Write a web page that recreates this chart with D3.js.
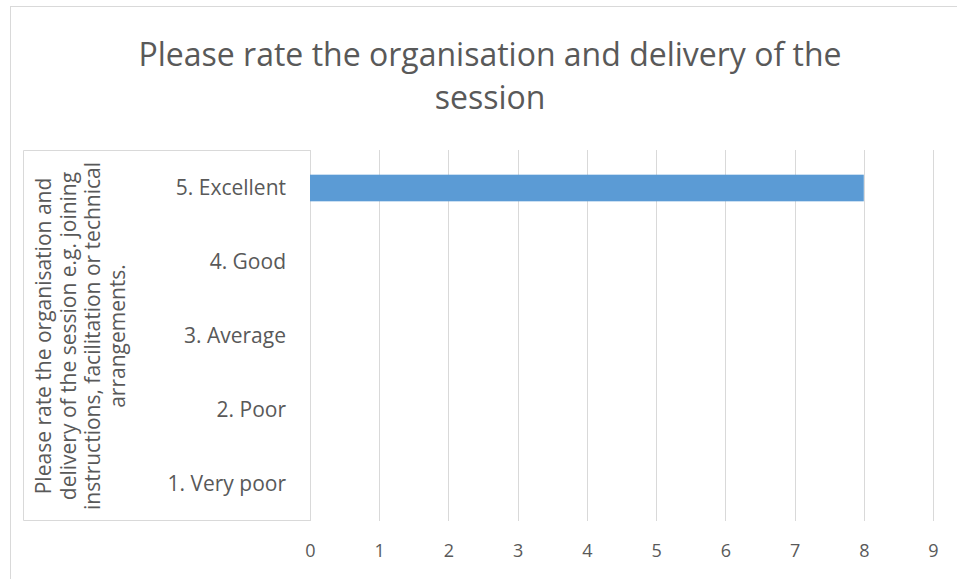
<!DOCTYPE html>
<html>
<head>
<meta charset="utf-8">
<script src="https://cdnjs.cloudflare.com/ajax/libs/d3/7.8.5/d3.min.js"></script>
<style>
  body { margin: 0; background: #fff; }
  text { font-family: "Open Sans", sans-serif; fill: #595959; }
</style>
</head>
<body>
<script>
var categories = ["5. Excellent", "4. Good", "3. Average", "2. Poor", "1. Very poor"],
    counts = [8, 0, 0, 0, 0],
    ticks = [0, 1, 2, 3, 4, 5, 6, 7, 8, 9],
    titleLines = ["Please rate the organisation and delivery of the", "session"],
    axisTitleLines = ["Please rate the organisation and",
                      "delivery of the session e.g. joining",
                      "instructions, facilitation or technical",
                      "arrangements."];

var w = 957, h = 579,
    pd = { left: 310, right: 933, top: 151, bottom: 521 },
    grid = "#d9d9d9",
    font = "'Open Sans', sans-serif";

var svg = d3.select("body")
            .append("svg")
            .attr("width", w)
            .attr("height", h);

// chart frame
svg.append("rect")
   .attr("x", 10.5).attr("y", 6.5)
   .attr("width", 1000).attr("height", 1000)
   .attr("fill", "none").attr("stroke", grid);

var x = d3.scaleLinear().domain([0, 9]).range([pd.left, pd.right]);
var y = d3.scaleBand().domain(categories).range([pd.top, pd.bottom]);

// title
svg.append("text")
   .attr("x", 490).attr("y", 66)
   .attr("text-anchor", "middle")
   .attr("font-size", "32px")
   .selectAll("tspan")
   .data(titleLines)
   .enter()
   .append("tspan")
   .attr("x", 490)
   .attr("dy", function(d, i) { return i ? 43 : 0; })
   .text(function(d) { return d; });

// gridlines
svg.append("g")
   .selectAll("line")
   .data(ticks)
   .enter()
   .append("line")
   .attr("x1", function(d) { return Math.round(x(d)) + 0.5; })
   .attr("x2", function(d) { return Math.round(x(d)) + 0.5; })
   .attr("y1", pd.top - 1)
   .attr("y2", pd.bottom)
   .attr("stroke", grid)
   .attr("stroke-width", 1);

// label box on the left
svg.append("path")
   .attr("d", "M" + (pd.left + 0.5) + "," + (pd.top - 0.5) + "H23.5V" + (pd.bottom - 0.5) + "H" + (pd.left + 0.5))
   .attr("fill", "none")
   .attr("stroke", grid);

// bars
var bh = y.bandwidth() * 0.36;
svg.append("g")
   .selectAll("rect")
   .data(counts)
   .enter()
   .append("rect")
   .attr("fill", "#5b9bd5")
   .attr("x", x(0))
   .attr("y", function(d, i) { return y(categories[i]) + (y.bandwidth() - bh) / 2; })
   .attr("width", function(d) { return x(d) - x(0); })
   .attr("height", bh);

// x axis
var xAxis = svg.append("g")
   .attr("transform", "translate(0," + pd.bottom + ")")
   .call(d3.axisBottom(x).tickValues(ticks).tickSize(0).tickPadding(23));
xAxis.select(".domain").remove();
xAxis.selectAll("text")
     .attr("font-size", "18px")
     .attr("font-family", font)
     .style("fill", "#595959");

// y axis
var yAxis = svg.append("g")
   .attr("transform", "translate(" + (pd.left - 24) + ",0)")
   .call(d3.axisLeft(y).tickSize(0).tickPadding(0));
yAxis.select(".domain").remove();
yAxis.selectAll("text")
     .attr("font-size", "21px")
     .attr("font-family", font)
     .style("fill", "#595959");

// axis title
svg.append("text")
   .attr("transform", "translate(0,336) rotate(-90)")
   .attr("text-anchor", "middle")
   .attr("font-size", "21px")
   .selectAll("tspan")
   .data(axisTitleLines)
   .enter()
   .append("tspan")
   .attr("x", 0)
   .attr("y", function(d, i) { return 51 + i * 24.5; })
   .text(function(d) { return d; });
</script>
</body>
</html>
